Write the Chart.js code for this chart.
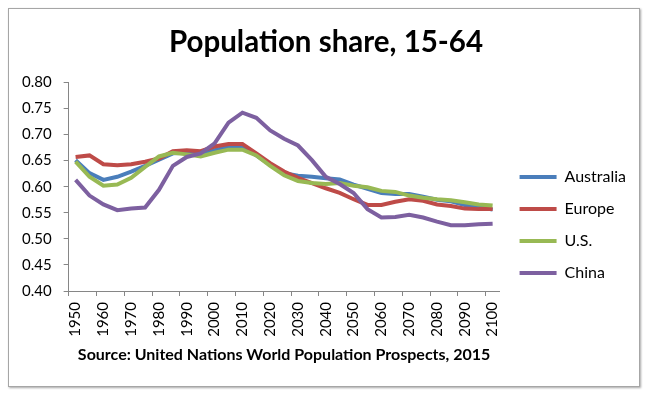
<!DOCTYPE html>
<html>
<head>
<meta charset="utf-8">
<script src="https://cdn.jsdelivr.net/npm/chart.js@4"></script>
<style>
  html, body { margin: 0; padding: 0; background: #fff; }
  #frame { position: absolute; left: 8px; top: 8px; width: 630px; height: 377px;
           border: 1px solid #a6a6a6; box-shadow: 1px 1px 2px rgba(0,0,0,0.35); }
  #wrap { position: absolute; left: 0; top: 0; width: 648px; height: 396px; }
</style>
</head>
<body>
<div id="frame"></div>
<div id="wrap"><canvas id="chart"></canvas></div>
<script>
// population share aged 15-64, UN WPP 2015
const years = [1950, 1955, 1960, 1965, 1970, 1975, 1980, 1985, 1990, 1995, 2000, 2005, 2010, 2015, 2020,
               2025, 2030, 2035, 2040, 2045, 2050, 2055, 2060, 2065, 2070, 2075, 2080, 2085, 2090, 2095, 2100];
const australia = [0.651, 0.626, 0.613, 0.619, 0.629, 0.640, 0.652, 0.664, 0.665, 0.662, 0.670, 0.676, 0.678, 0.660, 0.642,
                   0.626, 0.621, 0.619, 0.616, 0.614, 0.604, 0.596, 0.588, 0.586, 0.586, 0.581, 0.575, 0.572, 0.565, 0.561, 0.556];
const europe = [0.657, 0.660, 0.643, 0.641, 0.643, 0.648, 0.654, 0.668, 0.670, 0.668, 0.677, 0.682, 0.682, 0.664, 0.645,
                0.629, 0.617, 0.607, 0.597, 0.588, 0.576, 0.565, 0.565, 0.571, 0.576, 0.573, 0.566, 0.563, 0.558, 0.557, 0.557];
const us = [0.648, 0.619, 0.602, 0.604, 0.617, 0.638, 0.658, 0.665, 0.662, 0.658, 0.665, 0.671, 0.671, 0.660, 0.640,
            0.622, 0.611, 0.607, 0.605, 0.607, 0.602, 0.599, 0.592, 0.590, 0.583, 0.579, 0.576, 0.574, 0.570, 0.566, 0.564];
const china = [0.613, 0.583, 0.566, 0.555, 0.558, 0.560, 0.594, 0.640, 0.657, 0.664, 0.683, 0.723, 0.742, 0.732, 0.708,
               0.692, 0.679, 0.651, 0.619, 0.605, 0.588, 0.557, 0.541, 0.542, 0.546, 0.541, 0.533, 0.526, 0.526, 0.528, 0.529];

const AXIS = '#868686';

Chart.defaults.font.family = 'Lato';
Chart.defaults.color = '#000';

function line(label, data, color, order) {
  return { label, data, borderColor: color, backgroundColor: color, borderWidth: 4,
           pointRadius: 0, tension: 0, fill: false, order };
}

// push legend / title a bit like the excel one
const nudge = {
  id: 'nudge',
  afterLayout(chart) {
    const lg = chart.legend;
    if (lg) { lg.left += 4; lg.right += 4; lg.top += 6; lg.bottom += 6; }
    const tb = chart.titleBlock;
    if (tb) { tb.left += 5; tb.right += 5; }
  }
};

new Chart(document.getElementById('chart'), {
  type: 'line',
  data: {
    labels: years,
    datasets: [
      line('Australia', australia, '#4A7EBB', 3),
      line('Europe', europe, '#BE4B48', 2),
      line('U.S.', us, '#98B954', 1),
      line('China', china, '#7D60A0', 0)
    ]
  },
  options: {
    responsive: true,
    maintainAspectRatio: false,
    animation: false,
    layout: { padding: { left: 10, right: 16, top: 8, bottom: 28 } },
    plugins: {
      title: {
        display: true, text: 'Population share, 15-64', color: '#000',
        font: { size: 29.5, weight: 'bold' }, padding: { top: 17, bottom: 22 }
      },
      legend: {
        position: 'right', align: 'end', fullSize: false,
        labels: {
          boxWidth: 37, boxHeight: 4, padding: 16, color: '#000',
          font: { size: 16 },
          sort: (a, b) => a.datasetIndex - b.datasetIndex,
          generateLabels(chart) {
            const items = Chart.defaults.plugins.legend.labels.generateLabels(chart);
            items.forEach(it => { it.fillStyle = it.strokeStyle; it.lineWidth = 0; });
            return items;
          }
        }
      },
      tooltip: { enabled: false }
    },
    scales: {
      x: {
        type: 'category',
        offset: true,
        grid: {
          offset: true, drawOnChartArea: false, tickLength: 5,
          color: ctx => (ctx.index % 2 === 0 ? AXIS : 'rgba(0,0,0,0)')
        },
        border: { color: AXIS, width: 1 },
        ticks: {
          autoSkip: false, maxRotation: 90, minRotation: 90, padding: 6,
          font: { size: 15 }, color: '#000',
          callback: function(v, i) { return i % 2 === 0 ? this.getLabelForValue(v) : ''; }
        },
        title: {
          display: true, text: 'Source: United Nations World Population Prospects, 2015',
          color: '#000', font: { size: 16, weight: 'bold' }, padding: { top: 2, bottom: 4 }
        }
      },
      y: {
        min: 0.4, max: 0.8,
        grid: { drawOnChartArea: false, tickLength: 5, color: AXIS },
        border: { color: AXIS, width: 1 },
        ticks: { stepSize: 0.05, padding: 12, font: { size: 15 }, color: '#000',
                 callback: v => v.toFixed(2) }
      }
    }
  },
  plugins: [nudge]
});
</script>
</body>
</html>
